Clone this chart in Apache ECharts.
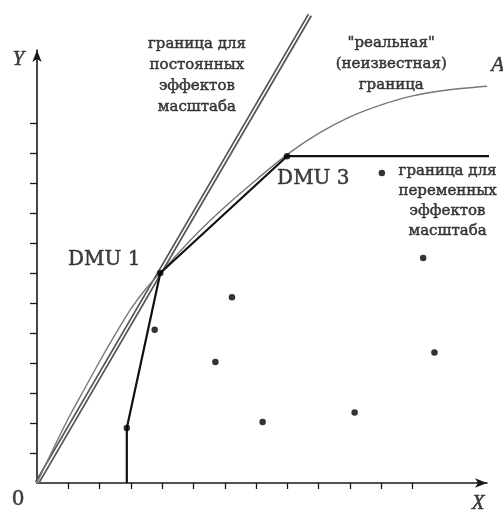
<!DOCTYPE html>
<html>
<head>
<meta charset="utf-8">
<script src="https://cdn.jsdelivr.net/npm/echarts@6/dist/echarts.min.js"></script>
<style>
  html, body { margin: 0; padding: 0; background: #fff; }
  #chart { width: 503px; height: 513px; }
</style>
</head>
<body>
<div id="chart"></div>
<script>
// axis ticks (units of the drawing)
const xTicks = [1, 2, 3, 4, 5, 6, 7, 8, 9, 10, 11, 12];
const yTicks = [1, 2, 3, 4, 5, 6, 7, 8, 9, 10, 11, 12];

// observed DMUs (inputs X, outputs Y)
const dmuX = [2.87, 3.94, 7.99, 3.76, 5.70, 6.23, 7.21, 10.15, 11.02, 12.34, 12.70];
const dmuY = [1.83, 7.00, 10.89, 5.11, 4.03, 6.19, 2.03, 2.35, 10.33, 7.50, 4.35];

// VRS frontier: vertical segment, DMU 1, DMU 3, then flat
const vrsX = [2.87, 2.87, 3.94, 7.99, 14.95];
const vrsY = [0, 1.83, 7.00, 10.89, 10.89];

// CRS frontier: ray from origin through DMU 1
const crsX = [0, 8.72];
const crsY = [0, 15.6];

// "real" (unknown) frontier
const realX = [0, 0.5, 1.0, 1.5, 2.0, 2.5, 3.0, 3.5, 3.94, 5.0, 6.0, 7.0, 8.0, 9.0, 10.0, 11.0, 12.0, 13.0, 14.38];
const realY = [0, 1.1, 2.15, 3.1, 4.05, 4.95, 5.8, 6.5, 7.0, 8.2, 9.2, 10.1, 10.95, 11.65, 12.2, 12.6, 12.9, 13.08, 13.22];

const zip = (xs, ys) => xs.map((x, i) => [x, ys[i]]);

const serif = 'DejaVu Serif';
const ink = '#111';

// text annotations, anchored in data coordinates
const notes = [
  { value: [5.11, 13.58], text: 'граница для\nпостоянных\nэффектов\nмасштаба', size: 15, lh: 21 },
  { value: [11.32, 13.96], text: '"реальная"\n(неизвестная)\nграница', size: 15, lh: 21 },
  { value: [13.12, 9.38], text: 'граница для\nпеременных\nэффектов\nмасштаба', size: 15, lh: 20 },
  { value: [2.15, 7.43], text: 'DMU 1', size: 20, lh: 22 },
  { value: [8.83, 10.14], text: 'DMU 3', size: 20, lh: 22 },
  { value: [14.72, 13.9], text: 'A', size: 21, lh: 22, italic: true },
  { value: [-0.6, -0.56], text: '0', size: 20, lh: 22 },
  { value: [14.1, -0.69], text: 'X', size: 21, lh: 22, italic: true },
  { value: [-0.6, 14.11], text: 'Y', size: 21, lh: 22, italic: true }
];

const axisCommon = {
  type: 'value',
  min: 0,
  splitLine: { show: false },
  axisLabel: { show: false },
  axisLine: {
    show: true,
    symbol: ['none', 'arrow'],
    symbolSize: [7, 12],
    lineStyle: { color: '#1a1a1a', width: 1.6 }
  }
};

const option = {
  backgroundColor: '#fff',
  animation: false,
  grid: { left: 37, right: 16, top: 50, bottom: 30 },
  xAxis: Object.assign({}, axisCommon, {
    max: 14.38,
    axisTick: { show: true, customValues: xTicks, length: 6, lineStyle: { color: '#1a1a1a', width: 1.3 } }
  }),
  yAxis: Object.assign({}, axisCommon, {
    max: 14.43,
    axisTick: { show: true, customValues: yTicks, length: 7, lineStyle: { color: '#1a1a1a', width: 1.3 } }
  }),
  series: [
    {
      name: 'crs',
      type: 'line',
      data: zip(crsX, crsY),
      symbol: 'none',
      clip: false,
      z: 1,
      lineStyle: { color: '#555', width: 5 }
    },
    {
      // white gap makes the double line
      name: 'crs-gap',
      type: 'line',
      data: zip(crsX, crsY),
      symbol: 'none',
      clip: false,
      z: 2,
      lineStyle: { color: '#fff', width: 1.5 }
    },
    {
      name: 'real',
      type: 'line',
      data: zip(realX, realY),
      symbol: 'none',
      smooth: 0.3,
      clip: false,
      z: 3,
      lineStyle: { color: '#777', width: 1.4 }
    },
    {
      name: 'vrs',
      type: 'line',
      data: zip(vrsX, vrsY),
      symbol: 'none',
      clip: false,
      z: 4,
      lineStyle: { color: '#111', width: 2.2 }
    },
    {
      name: 'dmu',
      type: 'scatter',
      data: zip(dmuX, dmuY),
      symbolSize: 6.5,
      z: 5,
      itemStyle: { color: '#000' }
    },
    {
      name: 'notes',
      type: 'scatter',
      clip: false,
      silent: true,
      symbolSize: 1,
      z: 6,
      itemStyle: { color: 'transparent' },
      data: notes.map(n => ({
        value: n.value,
        label: {
          show: true,
          position: 'inside',
          formatter: n.text,
          color: ink,
          textBorderColor: ink,
          textBorderWidth: 0.5,
          fontFamily: n.italic ? 'Liberation Serif' : serif,
          fontStyle: n.italic ? 'italic' : 'normal',
          fontSize: n.size,
          lineHeight: n.lh,
          align: 'center',
          verticalAlign: 'middle'
        }
      }))
    }
  ]
};

const chart = echarts.init(document.getElementById('chart'));
chart.setOption(option);
</script>
</body>
</html>
